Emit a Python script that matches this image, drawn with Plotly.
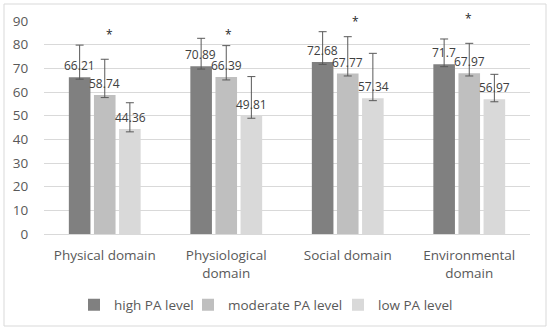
import plotly.graph_objects as go

categories = ["Physical domain", "Physiological<br>domain", "Social domain", "Environmental<br>domain"]
series_names = ["high PA level", "moderate PA level", "low PA level"]
high = [66.21, 70.89, 72.68, 71.7]
moderate = [58.74, 66.39, 67.77, 67.97]
low = [44.36, 49.81, 57.34, 56.97]
high_err_plus = [13.6, 11.8, 12.8, 10.7]
moderate_err_plus = [15.1, 13.2, 15.6, 12.6]
low_err_plus = [11.1, 16.7, 19.0, 10.5]
high_err_minus = [0.8, 1.2, 1.0, 1.0]
moderate_err_minus = [1.1, 1.3, 1.0, 1.2]
low_err_minus = [1.2, 0.9, 1.0, 1.1]
star_y = [85.3, 85.3, 90.8, 92]
star_xshift = [5, 2, 8, -1]

colors = ["#808080", "#bfbfbf", "#d9d9d9"]
FONT = "Open Sans"
L, R, T, B = 44, 20, 21, 98
W, H = 550, 332
PW, PH = W - L - R, H - T - B

def px_x(p):
    return (p - L) / PW

def px_y(p):
    return (H - B - p) / PH

fig = go.Figure()
values = [high, moderate, low]
plus = [high_err_plus, moderate_err_plus, low_err_plus]
minus = [high_err_minus, moderate_err_minus, low_err_minus]
legend_ids = ["legend", "legend2", "legend3"]
for i in range(3):
    fig.add_trace(go.Bar(
        x=categories, y=values[i], name=series_names[i],
        marker=dict(color=colors[i], line=dict(width=0)),
        error_y=dict(type="data", symmetric=False, array=plus[i], arrayminus=minus[i],
                     color="#595959", thickness=1, width=4),
        offsetgroup=str(i), legend=legend_ids[i],
    ))

annotations = []
offsets = [-1, 0, 1]
for i in range(3):
    for j, c in enumerate(categories):
        annotations.append(dict(
            x=c, y=values[i][j], xref="x", yref="y", text=f"{values[i][j]:g}",
            showarrow=False, yanchor="bottom", yshift=1, xshift=offsets[i] * 25.5,
            font=dict(family=FONT, size=12, color="#404040")))
for j, c in enumerate(categories):
    annotations.append(dict(
        x=c, y=star_y[j] / 90.0, xref="x", yref="paper", text="*", showarrow=False,
        xshift=star_xshift[j], yshift=8, font=dict(family=FONT, size=12, color="#262626")))

legend_text_start = [114, 228, 378]
leg = {}
for k, lid in enumerate(legend_ids):
    leg[lid] = dict(orientation="h", x=px_x(legend_text_start[k] - 40), xanchor="left",
                    y=px_y(305), yanchor="middle", bgcolor="rgba(0,0,0,0)",
                    font=dict(family=FONT, size=13.5, color="#595959"))

fig.update_layout(
    width=W, height=H,
    margin=dict(l=L, r=R, t=T, b=B),
    paper_bgcolor="white", plot_bgcolor="white",
    barmode="group", bargap=0.38, bargroupgap=0.14,
    font=dict(family=FONT, size=13.5, color="#595959"),
    showlegend=True,
    annotations=annotations,
    shapes=[dict(type="rect", xref="paper", yref="paper", x0=px_x(4), x1=px_x(546),
                 y0=px_y(326), y1=px_y(4), line=dict(color="#d9d9d9", width=1), layer="below")],
    xaxis=dict(showgrid=False, showline=False, ticks="outside", ticklen=9, automargin=False,
               tickcolor="rgba(0,0,0,0)", tickfont=dict(family=FONT, size=13.5, color="#595959")),
    yaxis=dict(range=[0, 90], dtick=10, showgrid=True, gridcolor="#d9d9d9", gridwidth=1,
               zeroline=True, zerolinecolor="#d9d9d9", zerolinewidth=1, automargin=False,
               ticks="outside", ticklen=12, tickcolor="rgba(0,0,0,0)",
               tickfont=dict(family=FONT, size=13.5, color="#595959")),
    **leg,
)
fig.write_html("out.html", config={"displayModeBar": False},
               post_script="document.body.style.margin='0';")
